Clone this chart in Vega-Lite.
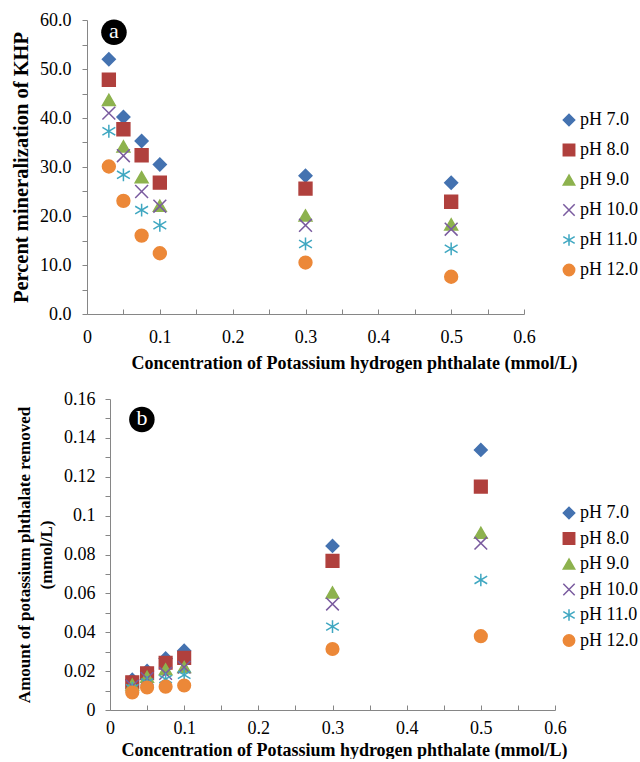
{
  "$schema": "https://vega.github.io/schema/vega-lite/v6.json",
  "padding": {"left": 10, "top": 11, "right": 0, "bottom": 0},
  "config": {
    "view": {"stroke": null},
    "font": "Liberation Serif",
    "axis": {
      "grid": false,
      "domainColor": "#868686",
      "tickColor": "#868686",
      "labelColor": "black",
      "titleColor": "black",
      "labelFont": "Liberation Serif",
      "labelFontSize": 18,
      "titleFont": "Liberation Serif",
      "titleFontSize": 18,
      "titleFontWeight": "bold",
      "tickSize": 5,
      "labelOverlap": false,
      "labelFlush": false,
      "labelBound": false
    },
    "legend": {
      "labelFont": "Liberation Serif",
      "labelFontSize": 18,
      "labelColor": "black",
      "padding": 0,
      "symbolStrokeWidth": 1.5,
      "symbolSize": 130,
      "labelOffset": 2
    }
  },
  "datasets": {
    "mineral": [
      {"conc": 0.03, "pH": "pH 7.0", "value": 52.0},
      {"conc": 0.05, "pH": "pH 7.0", "value": 40.2},
      {"conc": 0.075, "pH": "pH 7.0", "value": 35.3},
      {"conc": 0.1, "pH": "pH 7.0", "value": 30.5},
      {"conc": 0.3, "pH": "pH 7.0", "value": 28.2},
      {"conc": 0.5, "pH": "pH 7.0", "value": 26.8},
      {"conc": 0.03, "pH": "pH 8.0", "value": 47.8},
      {"conc": 0.05, "pH": "pH 8.0", "value": 37.7},
      {"conc": 0.075, "pH": "pH 8.0", "value": 32.4},
      {"conc": 0.1, "pH": "pH 8.0", "value": 26.8},
      {"conc": 0.3, "pH": "pH 8.0", "value": 25.6},
      {"conc": 0.5, "pH": "pH 8.0", "value": 22.9},
      {"conc": 0.03, "pH": "pH 9.0", "value": 43.7},
      {"conc": 0.05, "pH": "pH 9.0", "value": 34.2},
      {"conc": 0.075, "pH": "pH 9.0", "value": 27.9},
      {"conc": 0.1, "pH": "pH 9.0", "value": 22.1},
      {"conc": 0.3, "pH": "pH 9.0", "value": 20.1},
      {"conc": 0.5, "pH": "pH 9.0", "value": 18.3},
      {"conc": 0.03, "pH": "pH 10.0", "value": 41.0},
      {"conc": 0.05, "pH": "pH 10.0", "value": 32.3},
      {"conc": 0.075, "pH": "pH 10.0", "value": 25.0},
      {"conc": 0.1, "pH": "pH 10.0", "value": 22.0},
      {"conc": 0.3, "pH": "pH 10.0", "value": 18.1},
      {"conc": 0.5, "pH": "pH 10.0", "value": 17.3},
      {"conc": 0.03, "pH": "pH 11.0", "value": 37.3},
      {"conc": 0.05, "pH": "pH 11.0", "value": 28.4},
      {"conc": 0.075, "pH": "pH 11.0", "value": 21.2},
      {"conc": 0.1, "pH": "pH 11.0", "value": 18.1},
      {"conc": 0.3, "pH": "pH 11.0", "value": 14.3},
      {"conc": 0.5, "pH": "pH 11.0", "value": 13.3},
      {"conc": 0.03, "pH": "pH 12.0", "value": 30.1},
      {"conc": 0.05, "pH": "pH 12.0", "value": 23.1},
      {"conc": 0.075, "pH": "pH 12.0", "value": 16.0},
      {"conc": 0.1, "pH": "pH 12.0", "value": 12.4},
      {"conc": 0.3, "pH": "pH 12.0", "value": 10.5},
      {"conc": 0.5, "pH": "pH 12.0", "value": 7.6}
    ],
    "removed": [
      {"conc": 0.03, "pH": "pH 7.0", "value": 0.0156},
      {"conc": 0.05, "pH": "pH 7.0", "value": 0.0201},
      {"conc": 0.075, "pH": "pH 7.0", "value": 0.0265},
      {"conc": 0.1, "pH": "pH 7.0", "value": 0.0305},
      {"conc": 0.3, "pH": "pH 7.0", "value": 0.0844},
      {"conc": 0.5, "pH": "pH 7.0", "value": 0.1338},
      {"conc": 0.03, "pH": "pH 8.0", "value": 0.0143},
      {"conc": 0.05, "pH": "pH 8.0", "value": 0.0189},
      {"conc": 0.075, "pH": "pH 8.0", "value": 0.0243},
      {"conc": 0.1, "pH": "pH 8.0", "value": 0.0268},
      {"conc": 0.3, "pH": "pH 8.0", "value": 0.0767},
      {"conc": 0.5, "pH": "pH 8.0", "value": 0.1149},
      {"conc": 0.03, "pH": "pH 9.0", "value": 0.0131},
      {"conc": 0.05, "pH": "pH 9.0", "value": 0.0171},
      {"conc": 0.075, "pH": "pH 9.0", "value": 0.0209},
      {"conc": 0.1, "pH": "pH 9.0", "value": 0.0221},
      {"conc": 0.3, "pH": "pH 9.0", "value": 0.0605},
      {"conc": 0.5, "pH": "pH 9.0", "value": 0.0912},
      {"conc": 0.03, "pH": "pH 10.0", "value": 0.0123},
      {"conc": 0.05, "pH": "pH 10.0", "value": 0.0162},
      {"conc": 0.075, "pH": "pH 10.0", "value": 0.0188},
      {"conc": 0.1, "pH": "pH 10.0", "value": 0.022},
      {"conc": 0.3, "pH": "pH 10.0", "value": 0.0545},
      {"conc": 0.5, "pH": "pH 10.0", "value": 0.0858},
      {"conc": 0.03, "pH": "pH 11.0", "value": 0.0112},
      {"conc": 0.05, "pH": "pH 11.0", "value": 0.0142},
      {"conc": 0.075, "pH": "pH 11.0", "value": 0.0159},
      {"conc": 0.1, "pH": "pH 11.0", "value": 0.0181},
      {"conc": 0.3, "pH": "pH 11.0", "value": 0.0429},
      {"conc": 0.5, "pH": "pH 11.0", "value": 0.0669},
      {"conc": 0.03, "pH": "pH 12.0", "value": 0.009},
      {"conc": 0.05, "pH": "pH 12.0", "value": 0.0116},
      {"conc": 0.075, "pH": "pH 12.0", "value": 0.012},
      {"conc": 0.1, "pH": "pH 12.0", "value": 0.0126},
      {"conc": 0.3, "pH": "pH 12.0", "value": 0.0314},
      {"conc": 0.5, "pH": "pH 12.0", "value": 0.038}
    ],
    "tagA": [{"conc": 0.037, "value": 57.5, "label": "a"}],
    "tagB": [{"conc": 0.043, "value": 0.1495, "label": "b"}]
  },
  "spacing": 18,
  "vconcat": [
    {
      "width": 437,
      "height": 294,
      "encoding": {
        "x": {
          "field": "conc", "type": "quantitative",
          "scale": {"domain": [0, 0.6], "nice": false, "zero": false},
          "axis": {
            "title": "Concentration of Potassium hydrogen phthalate (mmol/L)",
            "titleX": 267,
            "values": [0, 0.05, 0.1, 0.15, 0.2, 0.25, 0.3, 0.35, 0.4, 0.45, 0.5, 0.55, 0.6],
            "labelExpr": "round(datum.value*100) % 10 === 0 ? '' + round(datum.value*10)/10 : ''",
            "tickSize": -5,
            "labelPadding": 19,
            "titlePadding": 8
          }
        },
        "y": {
          "field": "value", "type": "quantitative",
          "scale": {"domain": [0, 60], "nice": false, "zero": false},
          "axis": {
            "title": "Percent mineralization of KHP",
            "titleFontSize": 20.5,
            "values": [0, 5, 10, 15, 20, 25, 30, 35, 40, 45, 50, 55, 60],
            "labelExpr": "round(datum.value) % 10 === 0 ? format(datum.value, '.1f') : ''",
            "labelPadding": 11,
            "minExtent": 48,
            "maxExtent": 48,
            "titlePadding": 8
          }
        }
      },
      "layer": [
        {
          "data": {"name": "mineral"},
          "mark": {"type": "point", "filled": true, "opacity": 1, "size": 165, "strokeWidth": 1.5},
          "encoding": {
            "color": {
              "field": "pH", "type": "nominal",
              "scale": {"domain": ["pH 7.0", "pH 8.0", "pH 9.0", "pH 10.0", "pH 11.0", "pH 12.0"], "range": ["#4472B0", "#B0403D", "#8DB24E", "#7A5B9F", "#3FA7C1", "#EC8838"]},
              "legend": {"title": null, "orient": "none", "legendX": 473, "legendY": 91, "rowPadding": 12}
            },
            "stroke": {
              "field": "pH", "type": "nominal",
              "scale": {"domain": ["pH 7.0", "pH 8.0", "pH 9.0", "pH 10.0", "pH 11.0", "pH 12.0"], "range": ["#4472B0", "#B0403D", "#8DB24E", "#7A5B9F", "#3FA7C1", "#EC8838"]},
              "legend": {"title": null, "orient": "none", "legendX": 473, "legendY": 91, "rowPadding": 12}
            },
            "shape": {
              "field": "pH", "type": "nominal",
              "scale": {"domain": ["pH 7.0", "pH 8.0", "pH 9.0", "pH 10.0", "pH 11.0", "pH 12.0"], "range": ["diamond", "square", "triangle-up", "M-1,-1L1,1M1,-1L-1,1", "M-1,-0.6L1,0.6M-1,0.6L1,-0.6M0,-1L0,1", "circle"]},
              "legend": {"title": null, "orient": "none", "legendX": 473, "legendY": 91, "rowPadding": 12}
            }
          }
        },
        {
          "data": {"name": "tagA"},
          "mark": {"type": "point", "shape": "circle", "filled": true, "color": "black", "opacity": 1, "size": 650}
        },
        {
          "data": {"name": "tagA"},
          "mark": {"type": "text", "color": "white", "font": "Liberation Serif", "fontSize": 22, "baseline": "middle", "align": "center", "dy": -1},
          "encoding": {"text": {"field": "label"}}
        }
      ]
    },
    {
      "width": 468,
      "height": 311,
      "encoding": {
        "x": {
          "field": "conc", "type": "quantitative",
          "scale": {"domain": [0, 0.6], "range": [23, 468], "nice": false, "zero": false},
          "axis": {
            "title": "Concentration of Potassium hydrogen phthalate (mmol/L)",
            "titleX": 257,
            "values": [0, 0.05, 0.1, 0.15, 0.2, 0.25, 0.3, 0.35, 0.4, 0.45, 0.5, 0.55, 0.6],
            "labelExpr": "round(datum.value*100) % 10 === 0 ? '' + round(datum.value*10)/10 : ''",
            "tickSize": -5,
            "labelPadding": 14,
            "titlePadding": 4
          }
        },
        "y": {
          "field": "value", "type": "quantitative",
          "scale": {"domain": [0, 0.16], "nice": false, "zero": false},
          "axis": {
            "title": ["Amount of potassium phthalate removed", "(mmol/L)"],
            "titleFontSize": 17,
            "titleLineHeight": 22,
            "offset": -23,
            "values": [0, 0.01, 0.02, 0.03, 0.04, 0.05, 0.06, 0.07, 0.08, 0.09, 0.1, 0.11, 0.12, 0.13, 0.14, 0.15, 0.16],
            "labelExpr": "round(datum.value*100) % 2 === 0 ? '' + round(datum.value*100)/100 : ''",
            "labelPadding": 10,
            "minExtent": 47,
            "maxExtent": 47,
            "titlePadding": 8
          }
        }
      },
      "layer": [
        {
          "data": {"name": "removed"},
          "mark": {"type": "point", "filled": true, "opacity": 1, "size": 160, "strokeWidth": 1.5},
          "encoding": {
            "color": {
              "field": "pH", "type": "nominal",
              "scale": {"domain": ["pH 7.0", "pH 8.0", "pH 9.0", "pH 10.0", "pH 11.0", "pH 12.0"], "range": ["#4472B0", "#B0403D", "#8DB24E", "#7A5B9F", "#3FA7C1", "#EC8838"]},
              "legend": {"title": null, "orient": "none", "legendX": 473, "legendY": 105, "rowPadding": 7.5}
            },
            "stroke": {
              "field": "pH", "type": "nominal",
              "scale": {"domain": ["pH 7.0", "pH 8.0", "pH 9.0", "pH 10.0", "pH 11.0", "pH 12.0"], "range": ["#4472B0", "#B0403D", "#8DB24E", "#7A5B9F", "#3FA7C1", "#EC8838"]},
              "legend": {"title": null, "orient": "none", "legendX": 473, "legendY": 105, "rowPadding": 7.5}
            },
            "shape": {
              "field": "pH", "type": "nominal",
              "scale": {"domain": ["pH 7.0", "pH 8.0", "pH 9.0", "pH 10.0", "pH 11.0", "pH 12.0"], "range": ["diamond", "square", "triangle-up", "M-1,-1L1,1M1,-1L-1,1", "M-1,-0.6L1,0.6M-1,0.6L1,-0.6M0,-1L0,1", "circle"]},
              "legend": {"title": null, "orient": "none", "legendX": 473, "legendY": 105, "rowPadding": 7.5}
            }
          }
        },
        {
          "data": {"name": "tagB"},
          "mark": {"type": "point", "shape": "circle", "filled": true, "color": "black", "opacity": 1, "size": 650}
        },
        {
          "data": {"name": "tagB"},
          "mark": {"type": "text", "color": "white", "font": "Liberation Serif", "fontSize": 22, "baseline": "middle", "align": "center", "dy": -1},
          "encoding": {"text": {"field": "label"}}
        }
      ]
    }
  ],
  "resolve": {
    "scale": {"x": "independent", "y": "independent", "color": "independent", "stroke": "independent", "shape": "independent"},
    "legend": {"color": "independent", "stroke": "independent", "shape": "independent"}
  }
}
